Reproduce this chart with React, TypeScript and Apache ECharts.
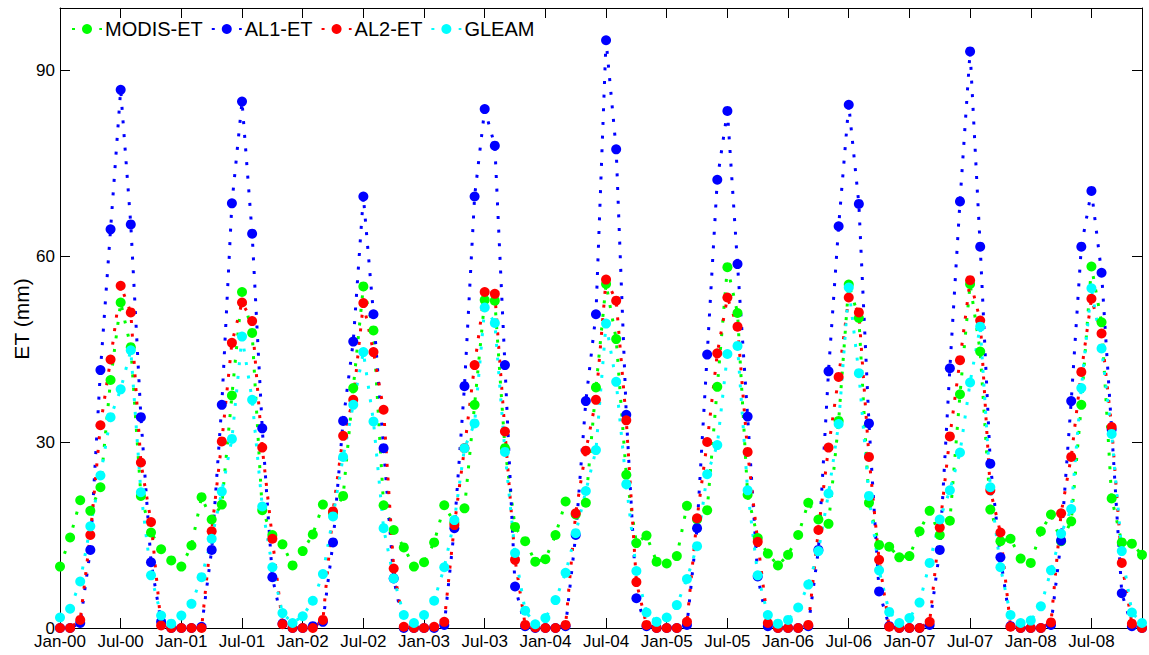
import React, { useEffect, useRef } from "react";
import * as echarts from "echarts";

// Monthly categories, Jan-00 … Dec-08
const MONTHS = ["Jan", "Feb", "Mar", "Apr", "May", "Jun", "Jul", "Aug", "Sep", "Oct", "Nov", "Dec"];
const YEARS = ["00", "01", "02", "03", "04", "05", "06", "07", "08"];
const categories: string[] = YEARS.flatMap((y) => MONTHS.map((m) => `${m}-${y}`));

// Y-axis ticks (mm)
const yTicks = [0, 30, 60, 90];
const yName = "ET (mm)";

// Monthly evapotranspiration (mm), one row per year
const modisEt = [
  9.9, 14.6, 20.6, 18.9, 22.7, 40.0, 52.5, 45.3, 21.3, 15.4, 12.7, 10.9,
  9.9, 13.3, 21.1, 17.5, 19.9, 37.5, 54.2, 47.6, 19.0, 15.0, 13.5, 10.1,
  12.4, 15.1, 19.9, 18.5, 21.3, 38.7, 55.1, 48.0, 19.8, 15.8, 13.0, 9.9,
  10.6, 13.8, 19.8, 17.0, 19.3, 36.0, 52.9, 52.8, 29.0, 16.3, 14.0, 10.7,
  11.1, 15.0, 20.4, 18.3, 20.2, 38.8, 55.5, 46.6, 24.7, 13.7, 14.9, 10.7,
  10.4, 11.6, 19.7, 17.5, 19.0, 38.9, 58.2, 50.8, 21.5, 14.5, 12.0, 10.1,
  11.8, 15.0, 20.2, 17.5, 16.8, 33.4, 55.4, 50.0, 20.2, 13.4, 13.1, 11.4,
  11.6, 15.6, 18.9, 15.0, 17.3, 37.7, 55.5, 44.6, 19.1, 14.0, 14.4, 11.2,
  10.5, 15.6, 18.3, 14.0, 17.2, 36.0, 58.3, 49.3, 20.9, 13.8, 13.6, 11.8,
];

const al1Et = [
  0, 0, 0.8, 12.6, 41.6, 64.3, 86.8, 65.1, 34.0, 10.6, 1.0, 0,
  0, 0, 0.2, 12.6, 36.0, 68.5, 84.9, 63.6, 32.2, 8.2, 0.7, 0,
  0, 0.3, 1.0, 13.8, 33.4, 46.2, 69.6, 50.6, 29.0, 8.0, 0, 0,
  0, 0, 0.5, 16.1, 39.0, 69.6, 83.7, 77.8, 42.4, 6.7, 0.3, 0,
  0, 0, 0.3, 15.0, 36.6, 50.6, 94.8, 77.2, 34.4, 4.8, 0.3, 0,
  0, 0, 0.5, 16.1, 44.1, 72.3, 83.4, 58.7, 34.1, 8.3, 0.3, 0,
  0, 0, 0.3, 12.6, 41.4, 64.8, 84.4, 68.4, 33.0, 5.9, 0.3, 0,
  0, 0, 0.5, 12.6, 41.9, 68.8, 93.0, 61.5, 26.5, 11.4, 0.3, 0,
  0, 0, 0.5, 14.1, 36.6, 61.5, 70.5, 57.3, 32.0, 5.6, 0.3, 0,
];

const al2Et = [
  0, 0, 1.3, 15.0, 32.7, 43.3, 55.2, 50.9, 26.7, 17.1, 0.4, 0,
  0, 0, 0, 15.6, 30.1, 46.0, 52.5, 49.5, 29.1, 14.4, 0.6, 0,
  0, 0, 1.3, 18.8, 31.0, 36.8, 52.4, 44.5, 35.2, 9.6, 0.2, 0,
  0, 0.2, 1.0, 16.6, 29.0, 42.4, 54.2, 53.9, 31.7, 11.0, 0.5, 0.1,
  0, 0, 0.5, 18.5, 28.6, 36.8, 56.2, 52.8, 33.5, 7.4, 0.5, 0,
  0, 0, 1.0, 17.7, 30.0, 44.3, 53.3, 48.6, 28.4, 13.9, 0.8, 0,
  0, 0, 0.5, 15.8, 29.1, 40.5, 53.3, 50.9, 27.6, 11.0, 0.2, 0,
  0, 0, 1.0, 16.2, 30.9, 43.2, 56.1, 49.6, 22.2, 15.4, 0.2, 0,
  0, 0, 0.9, 18.5, 27.6, 41.3, 53.1, 47.5, 32.4, 10.5, 0.7, 0,
];

const gleam = [
  1.7, 3.1, 7.5, 16.4, 24.6, 34.0, 38.5, 44.8, 21.9, 8.5, 2.0, 0.7,
  2.0, 3.9, 8.2, 14.4, 22.0, 30.5, 47.0, 36.8, 19.6, 9.8, 2.4, 0.8,
  1.9, 4.4, 8.7, 18.0, 27.6, 36.0, 44.5, 33.3, 16.1, 8.0, 2.1, 0.8,
  2.1, 4.4, 9.8, 17.4, 29.0, 33.0, 51.7, 49.2, 28.4, 12.1, 2.8, 0.6,
  1.6, 4.5, 8.9, 15.3, 22.1, 28.7, 49.1, 39.7, 23.2, 9.2, 2.5, 1.0,
  1.7, 3.7, 7.9, 13.2, 24.8, 29.5, 44.2, 45.5, 22.2, 8.5, 2.1, 0.7,
  1.3, 3.3, 7.0, 12.4, 21.7, 32.9, 54.9, 41.1, 21.3, 9.3, 2.6, 0.8,
  1.6, 4.1, 10.5, 17.5, 22.2, 28.3, 39.6, 48.6, 22.7, 9.8, 2.1, 0.8,
  1.2, 3.5, 9.3, 15.2, 19.2, 38.7, 54.8, 45.1, 31.3, 12.4, 2.5, 0.8,
];

const seriesDefs = [
  { name: "MODIS-ET", data: modisEt, color: "#00ff00" },
  { name: "AL1-ET", data: al1Et, color: "#0000ff" },
  { name: "AL2-ET", data: al2Et, color: "#ff0000" },
  { name: "GLEAM", data: gleam, color: "#00ffff" },
];

const FONT = "'Liberation Sans', Arial, Helvetica, sans-serif";
const BLACK = "#000000";

export default function App() {
  const ref = useRef<HTMLDivElement>(null);

  useEffect(() => {
    if (!ref.current) return;
    const chart = echarts.init(ref.current, undefined, { renderer: "svg" });

    const axisLine = { show: true, onZero: false, lineStyle: { color: BLACK, width: 1 } };
    const innerTick = { show: true, inside: true, length: 10, lineStyle: { color: BLACK, width: 1 } };

    chart.setOption({
      animation: false,
      backgroundColor: "#ffffff",
      textStyle: { fontFamily: FONT },
      grid: { left: 60, right: 7, top: 8, bottom: 27, containLabel: false },
      legend: {
        left: 66,
        top: 14,
        itemWidth: 30,
        itemHeight: 12.5,
        itemGap: 8,
        textStyle: { fontSize: 20, color: BLACK, fontFamily: FONT, padding: [0, 0, 0, -2] },
        data: seriesDefs.map((s) => s.name),
      },
      // vertical axis title, centred on the plot height
      graphic: [
        {
          type: "text",
          x: 21,
          y: 319,
          rotation: Math.PI / 2,
          style: {
            text: yName,
            fontSize: 21,
            fontFamily: FONT,
            fill: BLACK,
            align: "center",
            verticalAlign: "middle",
          },
        },
      ],
      xAxis: [
        {
          type: "category",
          data: categories,
          boundaryGap: false,
          position: "bottom",
          axisLine,
          axisTick: { ...innerTick, interval: 5 },
          axisLabel: {
            interval: 5,
            fontSize: 17,
            lineHeight: 15,
            color: BLACK,
            fontFamily: FONT,
            margin: 6,
          },
          splitLine: { show: false },
        },
        {
          type: "category",
          data: categories,
          boundaryGap: false,
          position: "top",
          axisLine,
          axisTick: { ...innerTick, interval: 5 },
          axisLabel: { show: false },
          splitLine: { show: false },
        },
      ],
      yAxis: [
        {
          type: "value",
          min: 0,
          max: 100,
          position: "left",
          axisLine,
          axisTick: { ...innerTick, customValues: yTicks },
          axisLabel: {
            customValues: yTicks,
            fontSize: 17,
            lineHeight: 12,
            color: BLACK,
            fontFamily: FONT,
            margin: 5,
          },
          splitLine: { show: false },
        },
        {
          type: "value",
          min: 0,
          max: 100,
          position: "right",
          axisLine,
          axisTick: { ...innerTick, customValues: yTicks },
          axisLabel: { show: false },
          splitLine: { show: false },
        },
      ],
      series: seriesDefs.map((s) => ({
        name: s.name,
        type: "line",
        data: s.data,
        xAxisIndex: 0,
        yAxisIndex: 0,
        symbol: "circle",
        symbolSize: 10,
        showSymbol: true,
        showAllSymbol: true,
        itemStyle: { color: s.color, borderWidth: 0 },
        lineStyle: { color: s.color, width: 3, type: [3, 10.65], cap: "butt" },
        emphasis: { disabled: true },
      })),
    });

    return () => chart.dispose();
  }, []);

  return (
    <div
      ref={ref}
      style={{ position: "fixed", left: 0, top: 0, width: 1149, height: 655, background: "#fff" }}
    />
  );
}
